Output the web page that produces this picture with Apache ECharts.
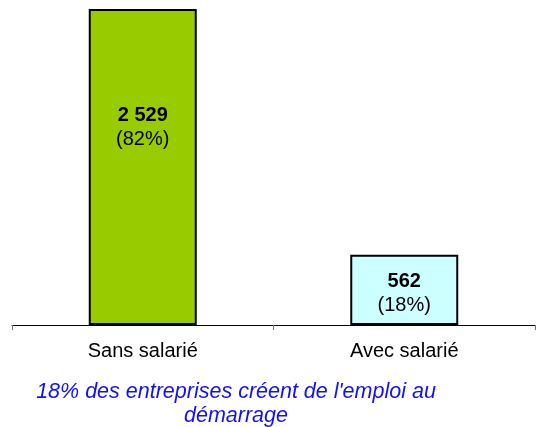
<!DOCTYPE html>
<html lang="fr">
<head>
<meta charset="UTF-8" />
<script src="https://cdn.jsdelivr.net/npm/echarts@6/dist/echarts.min.js"></script>
<style>
  * { margin: 0; }
  #chart { width: 536px; height: 427px; background: #fff; }
</style>
</head>
<body>
<div id="chart"></div>
<script>
  const categories = ["Sans salarié", "Avec salarié"];
  const values = [2529, 562];
  const shares = ["82%", "18%"];
  const barColors = ["#99CC00", "#CCFFFF"];
  const caption = "18% des entreprises créent de l'emploi au\ndémarrage";

  const chart = echarts.init(document.getElementById("chart"));

  const fmtNum = (v) => String(v).replace(/\B(?=(\d{3})+(?!\d))/g, " ");

  // label offset from the top of each bar
  const labelTop = [94, 15];

  const option = {
    animation: false,
    textStyle: { fontFamily: "Liberation Sans, Arial, sans-serif" },
    grid: { left: 12, right: 1, top: 9, bottom: 102 },
    xAxis: {
      type: "category",
      data: categories,
      axisLine: { lineStyle: { color: "#000", width: 1 } },
      axisTick: { show: true, length: 5, lineStyle: { color: "#777" } },
      axisLabel: { color: "#000", fontSize: 20, margin: 16 }
    },
    yAxis: {
      type: "value",
      min: 0,
      max: 2529,
      show: false
    },
    series: [
      {
        type: "bar",
        barWidth: "41.3%",
        data: values.map((v, i) => ({
          value: v,
          itemStyle: { color: barColors[i], borderColor: "#000", borderWidth: 2 },
          label: {
            show: true,
            position: ["50%", labelTop[i]],
            align: "center",
            formatter: "{a|" + fmtNum(v) + "}\n{b|(" + shares[i] + ")}",
            rich: {
              a: { fontSize: 20, fontWeight: "bold", color: "#000", lineHeight: 24 },
              b: { fontSize: 20, color: "#000", lineHeight: 24 }
            }
          }
        }))
      }
    ],
    graphic: [
      {
        type: "text",
        x: 236,
        y: 380,
        style: {
          text: caption,
          fill: "#1010ff",
          font: "italic 21.5px Liberation Sans, Arial, sans-serif",
          align: "center",
          verticalAlign: "top",
          lineHeight: 24
        }
      }
    ]
  };

  chart.setOption(option);
</script>
</body>
</html>
